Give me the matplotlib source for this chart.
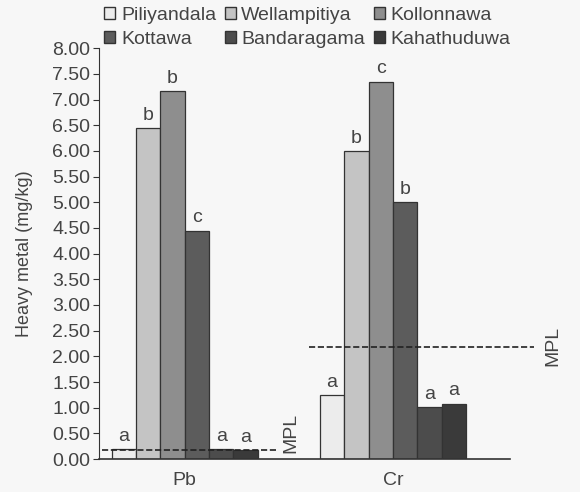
import numpy as np
import matplotlib.pyplot as plt
from matplotlib.patches import Patch

plt.rcParams['font.family'] = ['Liberation Sans', 'DejaVu Sans']

# data
metals = ['Pb', 'Cr']
sites = ['Piliyandala', 'Wellampitiya', 'Kollonnawa', 'Kottawa', 'Bandaragama', 'Kahathuduwa']
pb_vals = [0.20, 6.45, 7.17, 4.45, 0.20, 0.18]
cr_vals = [1.25, 6.00, 7.35, 5.00, 1.02, 1.08]
pb_letters = ['a', 'b', 'b', 'c', 'a', 'a']
cr_letters = ['a', 'b', 'c', 'b', 'a', 'a']
mpl_limits = [0.18, 2.18]
colors = ['#ececec', '#c4c4c4', '#8e8e8e', '#5c5c5c', '#4c4c4c', '#3a3a3a']
text_col = '#444444'

fig = plt.figure(figsize=(5.8, 4.92), dpi=100)
fig.patch.set_facecolor('#f7f7f7')
ax = fig.add_axes([0.170, 0.067, 0.709, 0.835])
ax.set_facecolor('#f7f7f7')

w = 0.117
centers = np.arange(len(metals))
values = [pb_vals, cr_vals]
letters = [pb_letters, cr_letters]
for g, c in enumerate(centers):
    for i in range(len(sites)):
        x = c + (i - 2.5) * w
        ax.bar(x, values[g][i], width=w, color=colors[i], edgecolor='#333333', linewidth=0.9)
        ax.text(x, values[g][i] + 0.08, letters[g][i], ha='center', va='bottom',
                fontsize=14, color=text_col)

# MPL lines
ax.plot([-0.40, 0.45], [mpl_limits[0]] * 2, ls='--', color='#222222', lw=1.2, clip_on=False)
ax.text(0.51, 0.5, 'MPL', rotation=90, ha='center', va='center', fontsize=14, color=text_col)
ax.plot([0.595, 1.68], [mpl_limits[1]] * 2, ls='--', color='#222222', lw=1.2, clip_on=False)
ax.text(1.77, 2.2, 'MPL', rotation=90, ha='center', va='center', fontsize=14, color=text_col,
        clip_on=False)

ax.set_xlim(-0.414, 1.562)
ax.set_ylim(0, 8)
ax.set_yticks(np.arange(0, 8.01, 0.5))
ax.set_yticklabels(['%.2f' % v for v in np.arange(0, 8.01, 0.5)], fontsize=14, color=text_col)
ax.set_xticks(centers)
ax.set_xticklabels(metals, fontsize=14, color=text_col)
ax.tick_params(axis='x', length=0, pad=9)
ax.tick_params(axis='y', direction='out', length=4, color='#333333', pad=2)
ax.set_ylabel('Heavy metal (mg/kg)', fontsize=13, color=text_col, labelpad=14)
for s in ['top', 'right']:
    ax.spines[s].set_visible(False)
ax.spines['left'].set_color('#333333')
ax.spines['bottom'].set_color('#333333')
ax.spines['bottom'].set_linewidth(1.2)

handles = [Patch(facecolor=colors[i], edgecolor='#333333', label=sites[i]) for i in range(6)]
order = [0, 3, 1, 4, 2, 5]
fig.legend([handles[i] for i in order], [sites[i] for i in order], ncol=3,
           loc='upper left', bbox_to_anchor=(0.16, 1.01), frameon=False, fontsize=14,
           handlelength=0.55, handleheight=0.55, handletextpad=0.3, columnspacing=0.45,
           labelspacing=0.35, labelcolor=text_col, borderaxespad=0.2)

fig.savefig('out.png', dpi=100, facecolor=fig.get_facecolor())
